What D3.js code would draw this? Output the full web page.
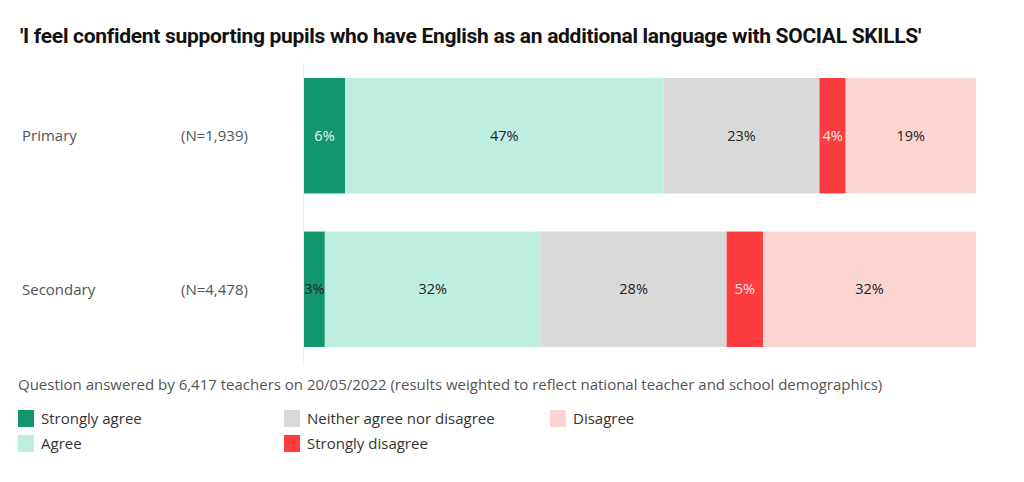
<!DOCTYPE html>
<html>
<head>
<meta charset="utf-8">
<script src="https://cdn.jsdelivr.net/npm/d3@7"></script>
<style>
  body { margin: 0; background: #fff; }
  text { font-family: "Open Sans", sans-serif; }
</style>
</head>
<body>
<script>
// data
const groups = ['Primary', 'Secondary'];
const groupN = ['(N=1,939)', '(N=4,478)'];
const responses = ['Strongly agree', 'Agree', 'Neither agree nor disagree', 'Strongly disagree', 'Disagree'];
const primaryValues = [6.1, 47.4, 23.2, 3.9, 19.4];
const secondaryValues = [3.1, 32.1, 27.7, 5.4, 31.7];
const colours = ['#12966e', '#bdeee0', '#d9d9d9', '#fc3d3f', '#fcd5d3'];
const legendOrder = ['Strongly agree', 'Agree', 'Neither agree nor disagree', 'Strongly disagree', 'Disagree'];

const w = 1024, h = 482;

const svg = d3.select('body')
    .append('svg')
    .attr('width', w)
    .attr('height', h);

// title
svg.append('text')
    .attr('x', 20)
    .attr('y', 43)
    .style('font-family', 'Roboto, sans-serif')
    .style('font-size', '21px')
    .style('font-weight', 700)
    .style('letter-spacing', '-0.3px')
    .attr('fill', '#111')
    .text("'I feel confident supporting pupils who have English as an additional language with SOCIAL SKILLS'");

const x = d3.scaleLinear().domain([0, 100]).range([304, 976]);
const y = d3.scaleBand().domain(groups).range([78, 347]).paddingInner(0.248).paddingOuter(0);
const colour = d3.scaleOrdinal().domain(responses).range(colours);

// stack rows
const rows = groups.map((g, i) => {
    const vals = i === 0 ? primaryValues : secondaryValues;
    const row = { group: g };
    responses.forEach((r, j) => row[r] = vals[j]);
    return row;
});
const series = d3.stack().keys(responses)(rows);

// faint axis line
svg.append('line')
    .attr('x1', 303.5).attr('x2', 303.5)
    .attr('y1', 62).attr('y2', 366)
    .attr('stroke', '#eeeeee');

const layer = svg.selectAll('g.layer')
    .data(series)
    .enter()
    .append('g')
    .attr('class', 'layer')
    .attr('fill', d => colour(d.key));

layer.selectAll('rect')
    .data(d => d)
    .enter()
    .append('rect')
    .attr('x', d => x(d[0]))
    .attr('width', d => x(d[1]) - x(d[0]))
    .attr('y', d => y(d.data.group))
    .attr('height', y.bandwidth());

// value labels
layer.selectAll('text')
    .data(d => d.map(p => Object.assign(p, { key: d.key })))
    .enter()
    .append('text')
    .attr('x', d => (x(d[0]) + x(d[1])) / 2)
    .attr('y', d => y(d.data.group) + y.bandwidth() / 2)
    .attr('dy', '0.35em')
    .attr('text-anchor', 'middle')
    .style('font-size', '14.5px')
    .attr('fill', d => {
        const v = d[1] - d[0];
        if (d.key === 'Strongly disagree') return '#ffe4e4';
        if (d.key === 'Strongly agree' && v >= 5) return '#e8f7f1';
        return '#222';
    })
    .text(d => Math.round(d[1] - d[0]) + '%');

// group labels
svg.selectAll('text.group')
    .data(groups)
    .enter()
    .append('text')
    .attr('class', 'group')
    .attr('x', 22)
    .attr('y', d => y(d) + y.bandwidth() / 2)
    .attr('dy', '0.35em')
    .style('font-size', '15px')
    .attr('fill', '#555')
    .text(d => d);

svg.selectAll('text.n')
    .data(groupN)
    .enter()
    .append('text')
    .attr('class', 'n')
    .attr('x', 181)
    .attr('y', (d, i) => y(groups[i]) + y.bandwidth() / 2)
    .attr('dy', '0.35em')
    .style('font-size', '15px')
    .attr('fill', '#555')
    .text(d => d);

// note
svg.append('text')
    .attr('x', 18)
    .attr('y', 390)
    .style('font-size', '15px')
    .attr('fill', '#555')
    .text('Question answered by 6,417 teachers on 20/05/2022 (results weighted to reflect national teacher and school demographics)');

// legend
const legendX = [18, 18, 284, 284, 550];
const legendY = [410, 435, 410, 435, 410];
const legend = svg.selectAll('g.legend')
    .data(legendOrder)
    .enter()
    .append('g')
    .attr('class', 'legend')
    .attr('transform', (d, i) => `translate(${legendX[i]},${legendY[i]})`);

legend.append('rect')
    .attr('width', 16)
    .attr('height', 17)
    .attr('fill', d => colour(d));

legend.append('text')
    .attr('x', 23)
    .attr('y', 8.5)
    .attr('dy', '0.35em')
    .style('font-size', '15px')
    .attr('fill', '#333')
    .text(d => d);
</script>
</body>
</html>
